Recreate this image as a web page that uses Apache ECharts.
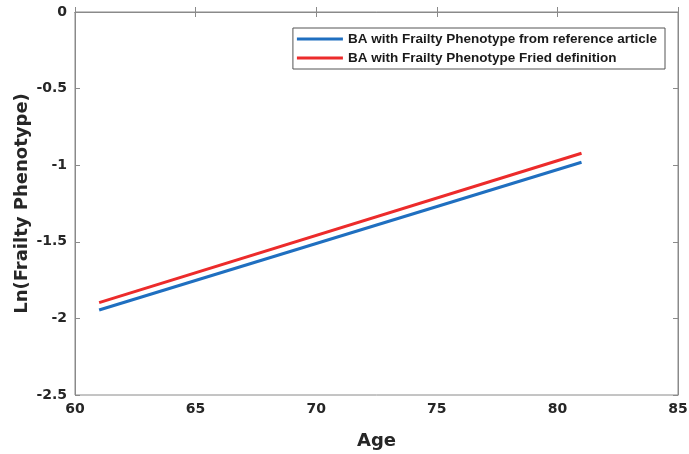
<!DOCTYPE html>
<html>
<head>
    <meta charset="utf-8">
    <title>Frailty Phenotype</title>
    <style>
        body { margin: 0; background: #fff; }
        #chart { width: 689px; height: 454px; }
    </style>
</head>
<body>
    <div id="chart"></div>
    <script src="https://cdn.jsdelivr.net/npm/echarts@6/dist/echarts.min.js"></script>
    <script>
        // data
        var seriesNames = [
            'BA with Frailty Phenotype from reference article',
            'BA with Frailty Phenotype Fried definition'
        ];
        var ages = [61, 81];
        var refArticle = [-1.945, -0.981];
        var friedDef = [-1.897, -0.922];
        var xTicks = [60, 65, 70, 75, 80, 85];
        var yTicks = [-2.5, -2, -1.5, -1, -0.5, 0];

        function pairs(xs, ys) {
            return xs.map(function (x, i) { return [x, ys[i]]; });
        }

        var FONT = 'DejaVu Sans';
        var AXIS_GRAY = '#8a8a8a';
        var labelFont = {
            color: '#262626',
            fontFamily: FONT,
            fontWeight: 'bold',
            fontSize: 14
        };
        var nameFont = {
            color: '#262626',
            fontFamily: FONT,
            fontWeight: 'bold',
            fontSize: 18
        };

        var myChart = echarts.init(document.getElementById('chart'));
        var option = {
            animation: false,
            grid: {
                left: 75, right: 11, top: 12, bottom: 59,
                outerBoundsMode: 'none',
                containLabel: false,
                show: true,
                borderColor: AXIS_GRAY,
                borderWidth: 1
            },
            legend: {
                orient: 'vertical',
                right: 24,
                top: 28,
                padding: [4, 8, 4, 4],
                itemGap: 5,
                itemWidth: 46,
                itemHeight: 3,
                icon: 'rect',
                borderColor: '#555',
                borderWidth: 1,
                backgroundColor: '#fff',
                textStyle: {
                    color: '#1a1a1a',
                    fontFamily: 'Liberation Sans',
                    fontWeight: 'bold',
                    fontSize: 13.5
                },
                data: seriesNames
            },
            xAxis: [{
                type: 'value',
                min: xTicks[0],
                max: xTicks[xTicks.length - 1],
                interval: 5,
                name: 'Age',
                nameLocation: 'middle',
                nameGap: 37,
                nameMoveOverlap: false,
                nameTextStyle: nameFont,
                splitLine: { show: false },
                axisLine: { lineStyle: { color: AXIS_GRAY } },
                axisTick: { inside: true, length: 5, lineStyle: { color: AXIS_GRAY } },
                axisLabel: Object.assign({ margin: 7 }, labelFont)
            }, {
                type: 'value',
                position: 'top',
                min: xTicks[0],
                max: xTicks[xTicks.length - 1],
                interval: 5,
                splitLine: { show: false },
                axisLine: { lineStyle: { color: AXIS_GRAY } },
                axisTick: { inside: true, length: 5, lineStyle: { color: AXIS_GRAY } },
                axisLabel: { show: false }
            }],
            yAxis: [{
                type: 'value',
                min: yTicks[0],
                max: yTicks[yTicks.length - 1],
                interval: 0.5,
                name: 'Ln(Frailty Phenotype)',
                nameLocation: 'middle',
                nameGap: 44,
                nameMoveOverlap: false,
                nameTextStyle: nameFont,
                splitLine: { show: false },
                axisLine: { show: true, lineStyle: { color: AXIS_GRAY } },
                axisTick: { show: true, inside: true, length: 5, lineStyle: { color: AXIS_GRAY } },
                axisLabel: Object.assign({ margin: 8 }, labelFont)
            }, {
                type: 'value',
                position: 'right',
                min: yTicks[0],
                max: yTicks[yTicks.length - 1],
                interval: 0.5,
                splitLine: { show: false },
                axisLine: { show: true, lineStyle: { color: AXIS_GRAY } },
                axisTick: { show: true, inside: true, length: 5, lineStyle: { color: AXIS_GRAY } },
                axisLabel: { show: false }
            }],
            series: [{
                name: seriesNames[0],
                type: 'line',
                showSymbol: false,
                data: pairs(ages, refArticle),
                itemStyle: { color: '#1f6fc0' },
                lineStyle: { color: '#1f6fc0', width: 3 }
            }, {
                name: seriesNames[1],
                type: 'line',
                showSymbol: false,
                data: pairs(ages, friedDef),
                itemStyle: { color: '#ec2b2b' },
                lineStyle: { color: '#ec2b2b', width: 3 }
            }]
        };
        myChart.setOption(option);
    </script>
</body>
</html>
